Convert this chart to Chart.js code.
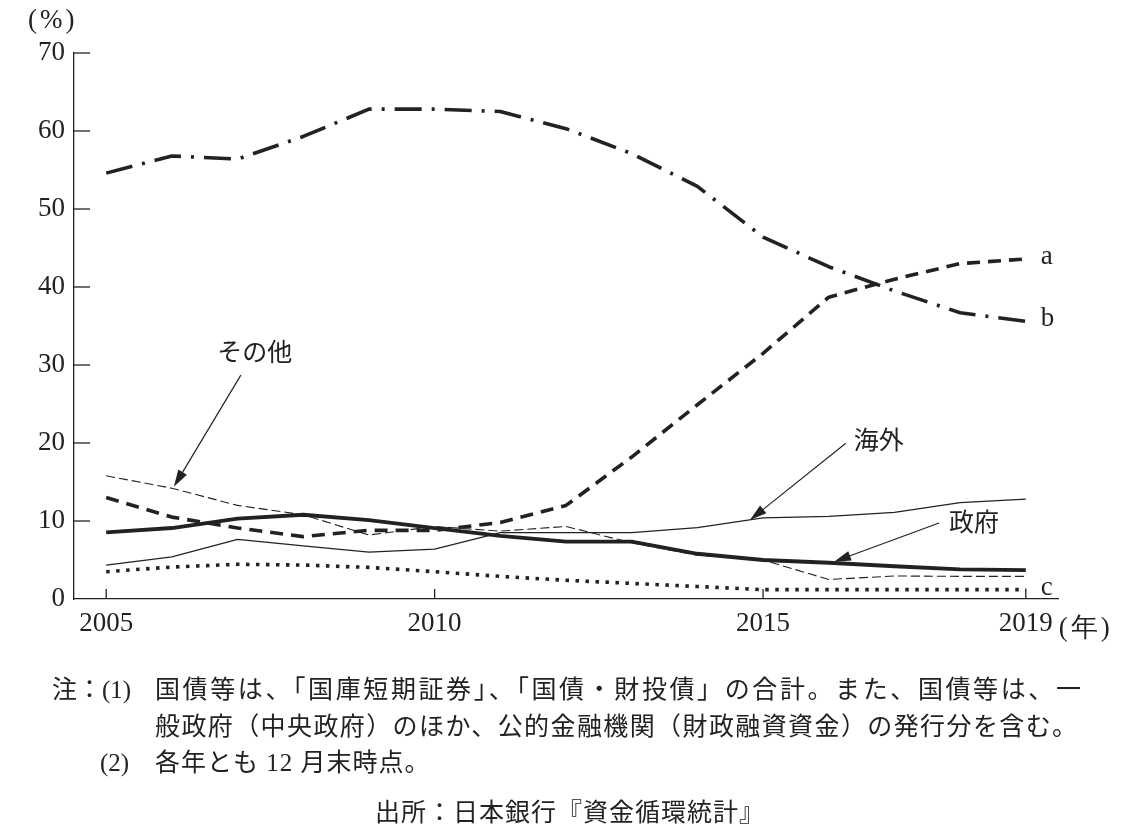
<!DOCTYPE html>
<html lang="ja">
<head>
<meta charset="utf-8">
<title>国債等の保有者別構成比</title>
<script src="https://cdn.jsdelivr.net/npm/chart.js@4.4.1/dist/chart.umd.min.js"></script>
<style>
  html, body { margin: 0; padding: 0; background: #fff; }
  #wrap { position: relative; width: 1140px; height: 835px; overflow: hidden; }
  #chart { position: absolute; left: 0; top: 0; }
  .note {
    position: absolute;
    font-family: "Liberation Serif", "Noto Sans CJK JP", serif;
    font-size: 25px;
    line-height: 1;
    color: #222;
    white-space: nowrap;
  }
</style>
</head>
<body>
<div id="wrap">
  <canvas id="chart" width="1140" height="835"></canvas>
  <div class="note" style="left:52px; top:677px;">注：(1)</div>
  <div class="note" style="left:155px; top:677px; letter-spacing:2.6px;">国債等は、「国庫短期証券」、「国債・財投債」の合計。また、国債等は、一</div>
  <div class="note" style="left:155px; top:714px; letter-spacing:1.4px;">般政府（中央政府）のほか、公的金融機関（財政融資資金）の発行分を含む。</div>
  <div class="note" style="left:100px; top:750px;">(2)</div>
  <div class="note" style="left:155px; top:750px; letter-spacing:1px;">各年とも 12 月末時点。</div>
  <div class="note" style="left:375px; top:800px; letter-spacing:1px;">出所：日本銀行『資金循環統計』</div>
</div>
<script>
// data (shares in %, end of December each year)
const years = [2005, 2006, 2007, 2008, 2009, 2010, 2011, 2012, 2013, 2014, 2015, 2016, 2017, 2018, 2019];
const xTicks = [2005, 2010, 2015, 2019];
const yTicks = [0, 10, 20, 30, 40, 50, 60, 70];

const seriesA    = [13.0, 10.5, 9.1, 8.0, 8.8, 8.8, 9.8, 12.0, 18.2, 24.9, 31.5, 38.7, 41.0, 43.0, 43.6];
const seriesB    = [54.6, 56.8, 56.4, 59.3, 62.8, 62.8, 62.5, 60.3, 57.1, 52.9, 46.4, 42.6, 39.5, 36.7, 35.6];
const seriesC    = [3.5, 4.1, 4.45, 4.35, 4.05, 3.5, 2.9, 2.4, 2.0, 1.6, 1.2, 1.2, 1.2, 1.2, 1.2];
const other      = [15.8, 14.2, 12.0, 10.8, 8.2, 9.3, 8.7, 9.3, 7.2, 5.6, 5.0, 2.5, 2.95, 2.9, 2.9];
const overseas   = [4.35, 5.4, 7.65, 6.8, 6.0, 6.4, 8.5, 8.5, 8.5, 9.15, 10.4, 10.6, 11.1, 12.35, 12.8];
const government = [8.55, 9.1, 10.3, 10.8, 10.1, 9.1, 8.1, 7.35, 7.35, 5.8, 5.0, 4.65, 4.2, 3.8, 3.7];

// callout labels: text anchor + arrow tail/tip, in (year, %) space
const callouts = [
  { text: "その他", tx: 2006.69, ty: 31.7, from: [2007.05, 28.7], to: [2006.03, 14.4] },
  { text: "海外",   tx: 2016.38, ty: 20.4, from: [2016.26, 19.96], to: [2014.80, 10.13] },
  { text: "政府",   tx: 2017.83, ty: 9.9,  from: [2017.68, 9.74],  to: [2016.08, 4.78] }
];

const INK = "#222";
const NUM_FONT = '27px "Liberation Serif"';
const JP_FONT = '25px "Noto Sans CJK JP"';

const toPoints = arr => years.map((yr, i) => ({ x: yr, y: arr[i] }));

function drawArrow(ctx, x1, y1, x2, y2) {
  const ang = Math.atan2(y2 - y1, x2 - x1);
  const len = 17, half = 5;
  const c = Math.cos(ang), s = Math.sin(ang);
  ctx.beginPath();
  ctx.moveTo(x1, y1);
  ctx.lineTo(x2 - c * (len - 2), y2 - s * (len - 2));
  ctx.stroke();
  ctx.beginPath();
  ctx.moveTo(x2, y2);
  ctx.lineTo(x2 - c * len + s * half, y2 - s * len - c * half);
  ctx.lineTo(x2 - c * len - s * half, y2 - s * len + c * half);
  ctx.closePath();
  ctx.fill();
}

// inward ticks, end labels a/b/c, units and callouts
const decorPlugin = {
  id: "decor",
  afterDraw(chart) {
    const { ctx, chartArea, scales: { x, y } } = chart;
    ctx.save();
    ctx.strokeStyle = INK;
    ctx.fillStyle = INK;
    ctx.lineWidth = 1.3;

    y.ticks.forEach(t => {
      if (t.value === 0) return;
      const py = y.getPixelForValue(t.value);
      ctx.beginPath();
      ctx.moveTo(chartArea.left, py);
      ctx.lineTo(chartArea.left + 16, py);
      ctx.stroke();
    });
    x.ticks.forEach(t => {
      const px = x.getPixelForValue(t.value);
      ctx.beginPath();
      ctx.moveTo(px, chartArea.bottom);
      ctx.lineTo(px, chartArea.bottom - 10);
      ctx.stroke();
    });

    // series end letters
    ctx.font = NUM_FONT;
    ctx.textAlign = "left";
    ctx.textBaseline = "middle";
    const last = years.length - 1;
    [["a", seriesA], ["b", seriesB], ["c", seriesC]].forEach(([lbl, arr]) => {
      ctx.fillText(lbl, x.getPixelForValue(years[last]) + 15, y.getPixelForValue(arr[last]) - 2);
    });

    // units
    ctx.letterSpacing = "3px";
    ctx.textBaseline = "alphabetic";
    ctx.fillText("(%)", 28, 28);
    ctx.fillText("(年)", x.getPixelForValue(years[last]) + 33, chartArea.bottom + 37);
    ctx.letterSpacing = "0px";

    // callouts
    ctx.font = JP_FONT;
    ctx.textBaseline = "middle";
    ctx.lineWidth = 1.2;
    callouts.forEach(c => {
      ctx.fillText(c.text, x.getPixelForValue(c.tx), y.getPixelForValue(c.ty));
      drawArrow(ctx,
        x.getPixelForValue(c.from[0]), y.getPixelForValue(c.from[1]),
        x.getPixelForValue(c.to[0]), y.getPixelForValue(c.to[1]));
    });
    ctx.restore();
  }
};

const line = (label, arr, width, dash, extra) => Object.assign({
  label,
  data: toPoints(arr),
  borderColor: INK,
  borderWidth: width,
  borderDash: dash,
  borderJoinStyle: "round",
  pointRadius: 0,
  tension: 0,
  fill: false
}, extra || {});

new Chart(document.getElementById("chart"), {
  type: "line",
  data: {
    datasets: [
      line("a", seriesA, 3.6, [13, 8]),
      line("b", seriesB, 3.6, [27, 10, 3, 10]),
      line("c", seriesC, 3.6, [3.5, 6.5], { borderCapStyle: "butt" }),
      line("その他", other, 1.1, [9, 4]),
      line("海外", overseas, 1.2, []),
      line("政府", government, 3.8, [])
    ]
  },
  options: {
    responsive: false,
    animation: false,
    devicePixelRatio: 1,
    layout: { padding: { top: 53, right: 82, bottom: 0, left: 0 } },
    plugins: { legend: { display: false }, tooltip: { enabled: false } },
    scales: {
      x: {
        type: "linear",
        min: 2004.51,
        max: 2019.49,
        afterBuildTicks: s => { s.ticks = xTicks.map(v => ({ value: v })); },
        afterFit: s => { s.height = 236; },
        grid: { display: false, drawTicks: false },
        border: { display: true, color: INK, width: 1.3 },
        ticks: {
          color: INK,
          font: { family: "Liberation Serif", size: 27 },
          padding: 9,
          maxRotation: 0,
          autoSkip: false,
          callback: v => String(v)
        }
      },
      y: {
        min: 0,
        max: 70,
        afterBuildTicks: s => { s.ticks = yTicks.map(v => ({ value: v })); },
        afterFit: s => { s.width = 74; },
        grid: { display: false, drawTicks: false },
        border: { display: true, color: INK, width: 1.3 },
        ticks: {
          color: INK,
          font: { family: "Liberation Serif", size: 27 },
          padding: 9,
          callback: v => String(v)
        }
      }
    }
  },
  plugins: [decorPlugin]
});
</script>
</body>
</html>
